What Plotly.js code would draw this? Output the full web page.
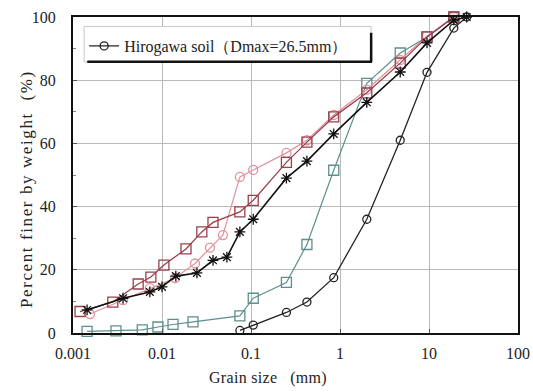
<!DOCTYPE html>
<html>
<head>
<meta charset="utf-8">
<script src="https://cdn.plot.ly/plotly-3.0.1.min.js"></script>
<style>html,body{margin:0;padding:0;background:#fff;}#chart{width:533px;height:392px;}</style>
</head>
<body>
<div id="chart"></div>
<script>
// Sieve / hydrometer grain sizes (mm) and percent finer by weight (%)
const hirogawaSize = [0.075, 0.106, 0.25, 0.425, 0.85, 2, 4.75, 9.5, 19, 26.5];
const hirogawaFiner = [0.8, 2.5, 6.5, 9.8, 17.5, 36, 61, 82.5, 96.5, 100];

const tealSize = [0.00144, 0.00304, 0.006, 0.009, 0.0133, 0.0223, 0.075, 0.106, 0.25, 0.425, 0.85, 2, 4.75, 9.5, 19];
const tealFiner = [0.5, 0.7, 1, 1.9, 2.7, 3.5, 5.4, 11, 16, 28, 51.5, 79, 88.6, 93.7, 100];

const redSize = [0.0012, 0.0028, 0.0054, 0.0075, 0.0105, 0.0186, 0.028, 0.0374, 0.075, 0.106, 0.25, 0.425, 0.85, 2, 4.75, 9.5, 19];
const redFiner = [6.8, 9.8, 15.5, 17.7, 21.5, 26.6, 32, 35, 38.3, 42, 54, 60.4, 68.4, 76, 85.4, 93.7, 100];

const pinkSize = [0.00155, 0.00365, 0.0073, 0.014, 0.0235, 0.0346, 0.0484, 0.075, 0.106, 0.25, 0.425, 0.85, 2, 4.75, 9.5, 19];
const pinkFiner = [6, 10.4, 14.2, 17.4, 22, 27, 31, 49.4, 51.6, 57, 61, 69, 77, 86.4, 94, 100];

const crossSize = [0.00144, 0.00365, 0.0073, 0.01, 0.0143, 0.0247, 0.0374, 0.0536, 0.075, 0.106, 0.25, 0.425, 0.85, 2, 4.75, 9.5, 19, 26.5];
const crossFiner = [7.3, 11, 13, 14.6, 18, 19, 23, 24, 32, 36, 49, 54.4, 63, 73, 82.6, 91.8, 99, 100];

const xTickVals = [0.001, 0.01, 0.1, 1, 10, 100];
const xTickText = ['0.001', '0.01', '0.1', '1', '10', '100'];
const yTickVals = [0, 20, 40, 60, 80, 100];

const legendLabel = 'Hirogawa soil（Dmax=26.5mm）';
const xTitle = 'Grain size   (mm)';
const yTitle = 'Percent finer by weight  (%)';

const serif = '"Liberation Serif"';

const traces = [
  {x: tealSize, y: tealFiner, mode: 'lines+markers', showlegend: false, cliponaxis: false,
   line: {color: '#5e8f8c', width: 1.2},
   marker: {symbol: 'square-open', size: 10, color: '#5e8f8c', line: {width: 1.3}}},
  {x: pinkSize, y: pinkFiner, mode: 'lines+markers', showlegend: false, cliponaxis: false,
   line: {color: '#e0909c', width: 1.2},
   marker: {symbol: 'circle-open', size: 9, color: '#e0909c', line: {width: 1.3}}},
  {x: redSize, y: redFiner, mode: 'lines+markers', showlegend: false, cliponaxis: false,
   line: {color: '#9a3f4c', width: 1.3},
   marker: {symbol: 'square-open', size: 10, color: '#9a3f4c', line: {width: 1.3}}},
  {x: crossSize, y: crossFiner, mode: 'lines+markers', showlegend: false, cliponaxis: false,
   line: {color: '#111111', width: 1.6},
   marker: {symbol: 'asterisk-open', size: 9, color: '#111111', line: {width: 1.3, color: '#111111'}}},
  {x: hirogawaSize, y: hirogawaFiner, mode: 'lines+markers', name: legendLabel, showlegend: true, cliponaxis: false,
   line: {color: '#222222', width: 1.3},
   marker: {symbol: 'circle-open', size: 8, color: '#222222', line: {width: 1.3}}}
];

const layout = {
  width: 533, height: 392,
  margin: {l: 73, r: 15, t: 17, b: 59},
  paper_bgcolor: '#ffffff', plot_bgcolor: '#ffffff',
  font: {family: serif, size: 15, color: '#222'},
  showlegend: true,
  legend: {x: 0.025, y: 0.962, xanchor: 'left', yanchor: 'top',
           bgcolor: 'rgba(0,0,0,0)', borderwidth: 0, itemwidth: 30,
           font: {family: serif, size: 16, color: '#222'}},
  xaxis: {type: 'log', range: [-3, 2], tickvals: xTickVals, ticktext: xTickText,
          showgrid: true, gridcolor: '#b8b8b8', gridwidth: 1,
          showline: true, linecolor: '#111', linewidth: 2, mirror: true,
          ticks: 'inside', ticklen: 4, tickcolor: '#555',
          zeroline: false, ticklabelstandoff: 5,
          tickfont: {family: serif, size: 16, color: '#222'}},
  yaxis: {range: [0, 100], tickvals: yTickVals,
          showgrid: true, gridcolor: '#b8b8b8', gridwidth: 1,
          showline: true, linecolor: '#111', linewidth: 2, mirror: true,
          ticks: 'inside', ticklen: 4, tickcolor: '#555',
          minor: {dtick: 10, ticks: 'inside', ticklen: 3, tickcolor: '#888', showgrid: false},
          zeroline: false, ticklabelstandoff: 12,
          tickfont: {family: serif, size: 16, color: '#222'}},
  annotations: [
    {text: '<span style="letter-spacing:0.3px">' + xTitle + '</span>', xref: 'paper', yref: 'paper',
     x: 0.438, y: -0.142, xanchor: 'center', yanchor: 'middle', showarrow: false,
     font: {family: serif, size: 16, color: '#222'}},
    {text: '<span style="letter-spacing:1.6px">' + yTitle + '</span>', xref: 'paper', yref: 'paper',
     x: -0.106, y: 0.455, xanchor: 'center', yanchor: 'middle', textangle: -90, showarrow: false,
     font: {family: serif, size: 17, color: '#222'}}
  ],
  shapes: [
    {type: 'rect', xref: 'paper', yref: 'paper', x0: 0.025, x1: 0.67, y0: 0.858, y1: 0.97,
     fillcolor: '#ffffff', line: {color: '#c8c8c8', width: 1}, layer: 'above'},
    {type: 'line', xref: 'paper', yref: 'paper', x0: 0.032, x1: 0.672, y0: 0.858, y1: 0.858,
     line: {color: '#111', width: 2.5}, layer: 'above'},
    {type: 'line', xref: 'paper', yref: 'paper', x0: 0.67, x1: 0.67, y0: 0.858, y1: 0.95,
     line: {color: '#111', width: 2.5}, layer: 'above'}
  ]
};

Plotly.newPlot('chart', traces, layout, {displayModeBar: false, staticPlot: true});
</script>
</body>
</html>
